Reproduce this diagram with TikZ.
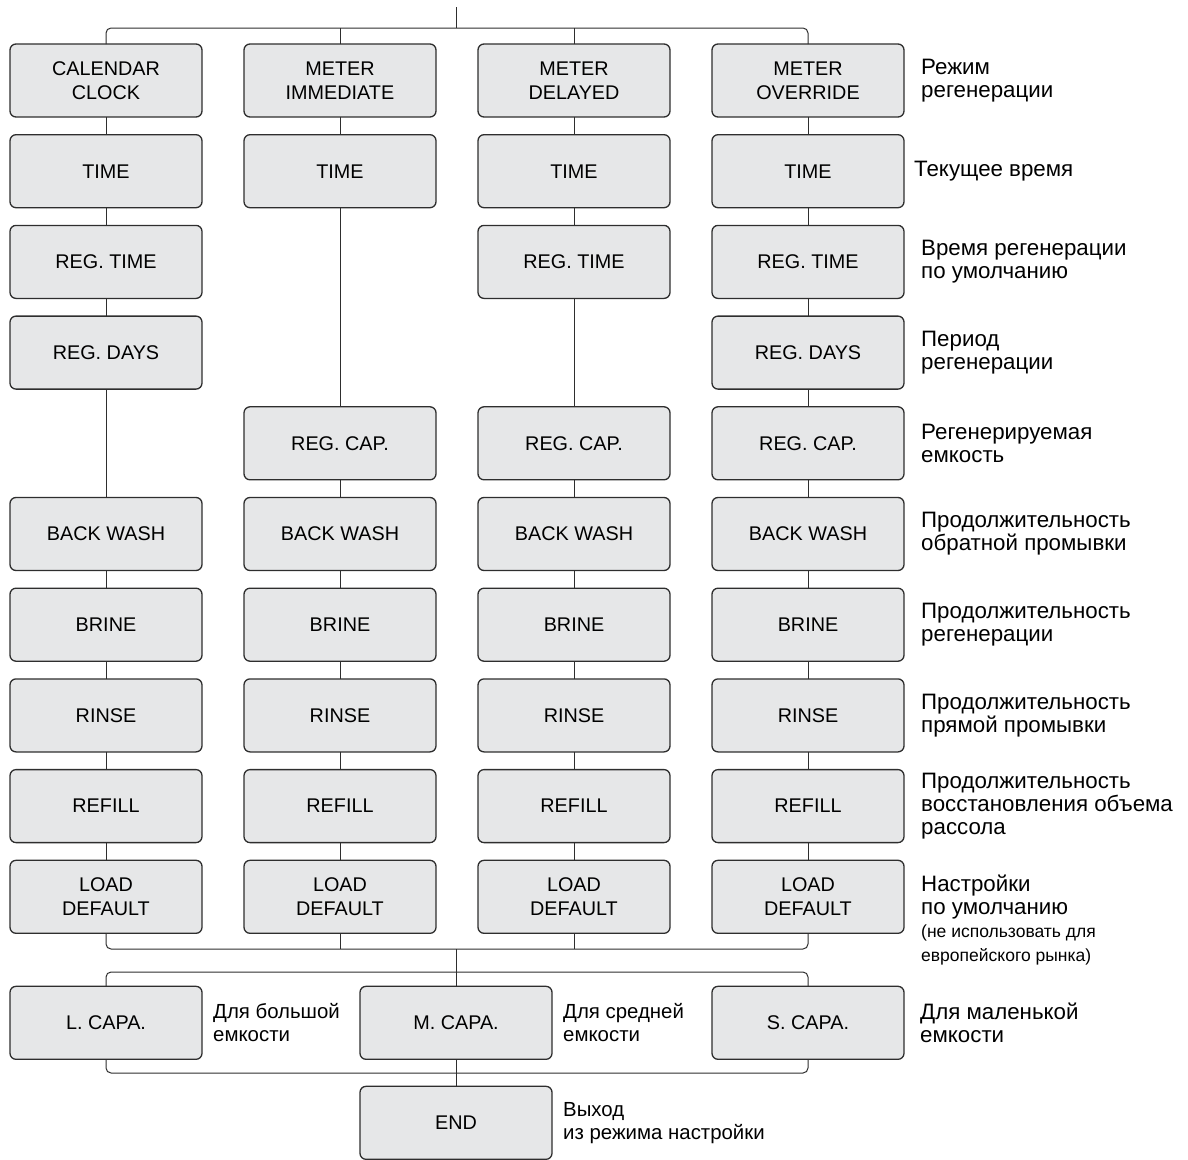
\documentclass[tikz,border=0pt]{standalone}
\usepackage{fontspec}
\setmainfont{Liberation Sans}
\usetikzlibrary{positioning}
\definecolor{boxfill}{HTML}{E6E7E8}
\definecolor{boxline}{HTML}{2E2E2E}

\begin{document}
\begin{tikzpicture}[x=1pt, y=-1pt, node distance=17.7pt and 42pt,
    box/.style={draw=boxline, line width=1.3pt, fill=boxfill, rounded corners=6pt,
      minimum width=192pt, minimum height=73pt, inner sep=0pt, outer sep=0pt,
      align=center, font=\fontsize{19.8}{24}\selectfont},
    note/.style={anchor=west, align=left, inner sep=0pt, font=\fontsize{22.3}{23}\selectfont},
    subnote/.style={note, font=\fontsize{20.4}{23}\selectfont},
    small/.style={align=left, inner sep=0pt, font=\fontsize{17.5}{24}\selectfont},
    link/.style={draw=boxline, line width=1pt, rounded corners=5pt}]
        \useasboundingbox (0,0) rectangle (1188,1159);

        \node[box] (a0) at (106,80.5) {CALENDAR\\CLOCK};
        \node[box] (b0) [right=of a0] {METER\\IMMEDIATE};
        \node[box] (c0) [right=of b0] {METER\\DELAYED};
        \node[box] (d0) [right=of c0] {METER\\OVERRIDE};

        \node[box] (a1) [below=of a0] {TIME};
        \node[box] (a2) [below=of a1] {REG. TIME};
        \node[box] (a3) [below=of a2] {REG. DAYS};
        \node[box] (a5) [below=108.4pt of a3] {BACK WASH};
        \node[box] (a6) [below=of a5] {BRINE};
        \node[box] (a7) [below=of a6] {RINSE};
        \node[box] (a8) [below=of a7] {REFILL};
        \node[box] (a9) [below=of a8] {LOAD\\DEFAULT};

        \node[box] (b1) [below=of b0] {TIME};
        \node[box] (b4) [below=199.1pt of b1] {REG. CAP.};
        \node[box] (b5) [below=of b4] {BACK WASH};
        \node[box] (b6) [below=of b5] {BRINE};
        \node[box] (b7) [below=of b6] {RINSE};
        \node[box] (b8) [below=of b7] {REFILL};
        \node[box] (b9) [below=of b8] {LOAD\\DEFAULT};

        \node[box] (c1) [below=of c0] {TIME};
        \node[box] (c2) [below=of c1] {REG. TIME};
        \node[box] (c4) [below=108.4pt of c2] {REG. CAP.};
        \node[box] (c5) [below=of c4] {BACK WASH};
        \node[box] (c6) [below=of c5] {BRINE};
        \node[box] (c7) [below=of c6] {RINSE};
        \node[box] (c8) [below=of c7] {REFILL};
        \node[box] (c9) [below=of c8] {LOAD\\DEFAULT};

        \node[box] (d1) [below=of d0] {TIME};
        \node[box] (d2) [below=of d1] {REG. TIME};
        \node[box] (d3) [below=of d2] {REG. DAYS};
        \node[box] (d4) [below=of d3] {REG. CAP.};
        \node[box] (d5) [below=of d4] {BACK WASH};
        \node[box] (d6) [below=of d5] {BRINE};
        \node[box] (d7) [below=of d6] {RINSE};
        \node[box] (d8) [below=of d7] {REFILL};
        \node[box] (d9) [below=of d8] {LOAD\\DEFAULT};

        \node[box] (lcap) [below=53pt of a9] {L. CAPA.};
        \node[box] (mcap) [right=158pt of lcap] {M. CAPA.};
        \node[box] (scap) [right=160pt of mcap] {S. CAPA.};
        \node[box] (end) [below=27pt of mcap] {END};

        \node[note] (r0) [right=17pt of d0] {Режим\\регенерации};
        \node[note] (r1) [right=10pt of d1] {Текущее время};
        \node[note] (r2) [right=17pt of d2] {Время регенерации\\по умолчанию};
        \node[note] (r3) [right=17pt of d3] {Период\\регенерации};
        \node[note] (r4) [right=17pt of d4] {Регенерируемая\\емкость};
        \node[note] (r5) [right=17pt of d5] {Продолжительность\\обратной промывки};
        \node[note] (r6) [right=17pt of d6] {Продолжительность\\регенерации};
        \node[note] (r7) [right=17pt of d7] {Продолжительность\\прямой промывки};
        \node[note] (r8) [right=17pt of d8] {Продолжительность\\восстановления объема\\рассола};
        \node[note] (r9) [right=17pt of d9] {Настройки\\по умолчанию};
        \node[small] (r9x) [below=6pt of r9.south west, anchor=north west] {(не использовать для\\европейского рынка)};
        \node[subnote] (rl) [right=11pt of lcap] {Для большой\\емкости};
        \node[subnote] (rm) [right=11pt of mcap] {Для средней\\емкости};
        \node[note] (rs) [right=16pt of scap] {Для маленькой\\емкости};
        \node[subnote] (re) [right=11pt of end] {Выход\\из режима настройки};

        \coordinate (top) at (456,7);
        \coordinate (bus) at (456,28);
        \coordinate (join) at (456,949);
        \coordinate (capbus) at (456,972);
        \coordinate (endbus) at (456,1073);

        \draw[link] (top) -- (bus);
        \draw[link] (a0.north) |- (bus) -| (d0.north);
        \draw[link] (b0.north) -- (b0.north |- bus);
        \draw[link] (c0.north) -- (c0.north |- bus);

        \draw[link] (a0) -- (a1);
        \draw[link] (a1) -- (a2);
        \draw[link] (a2) -- (a3);
        \draw[link] (a3) -- (a5);
        \draw[link] (a5) -- (a6);
        \draw[link] (a6) -- (a7);
        \draw[link] (a7) -- (a8);
        \draw[link] (a8) -- (a9);

        \draw[link] (b0) -- (b1);
        \draw[link] (b1) -- (b4);
        \draw[link] (b4) -- (b5);
        \draw[link] (b5) -- (b6);
        \draw[link] (b6) -- (b7);
        \draw[link] (b7) -- (b8);
        \draw[link] (b8) -- (b9);

        \draw[link] (c0) -- (c1);
        \draw[link] (c1) -- (c2);
        \draw[link] (c2) -- (c4);
        \draw[link] (c4) -- (c5);
        \draw[link] (c5) -- (c6);
        \draw[link] (c6) -- (c7);
        \draw[link] (c7) -- (c8);
        \draw[link] (c8) -- (c9);

        \draw[link] (d0) -- (d1);
        \draw[link] (d1) -- (d2);
        \draw[link] (d2) -- (d3);
        \draw[link] (d3) -- (d4);
        \draw[link] (d4) -- (d5);
        \draw[link] (d5) -- (d6);
        \draw[link] (d6) -- (d7);
        \draw[link] (d7) -- (d8);
        \draw[link] (d8) -- (d9);

        \draw[link] (a9.south) |- (join) -| (d9.south);
        \draw[link] (b9.south) -- (b9.south |- join);
        \draw[link] (c9.south) -- (c9.south |- join);
        \draw[link] (join) -- (mcap.north);
        \draw[link] (lcap.north) |- (capbus) -| (scap.north);
        \draw[link] (lcap.south) |- (endbus) -| (scap.south);
        \draw[link] (mcap) -- (end);
    \end{tikzpicture}
\end{document}
